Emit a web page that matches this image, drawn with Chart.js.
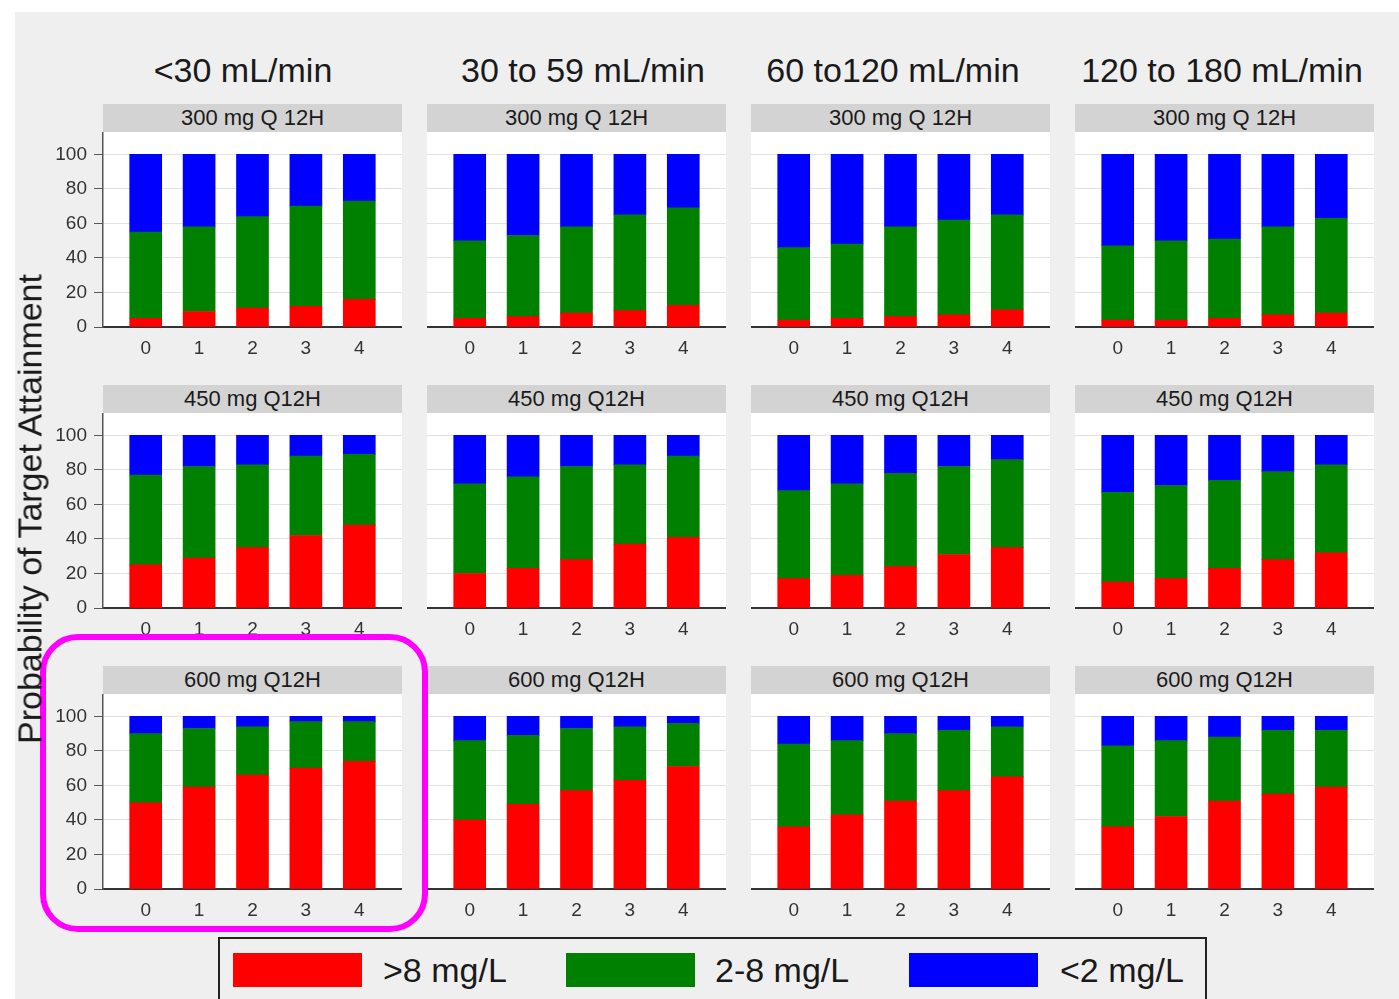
<!DOCTYPE html>
<html>
<head>
<meta charset="utf-8">
<script src="https://cdn.jsdelivr.net/npm/chart.js@4.4.1/dist/chart.umd.min.js"></script>
<style>
  body { margin: 0; width: 1399px; height: 999px; overflow: hidden; position: relative; background: #fff;
         font-family: "Liberation Sans", Arial, sans-serif; color: #1a1a1a; }
  #page { position: absolute; left: 15px; top: 12px; right: 0; bottom: 0; background: #efefef; }
  .colhead { position: absolute; width: 340px; margin-left: -170px; text-align: center; font-size: 34px; line-height: 40px; top: 50px; }
  .strip { position: absolute; height: 28px; background: #d3d3d3; font-size: 22px; line-height: 28px; text-align: center; }
  canvas { position: absolute; }
  #ytitle { position: absolute; left: 30px; top: 509px; font-size: 34px; white-space: nowrap;
            transform: translate(-50%, -50%) rotate(-90deg); }
  #highlight { position: absolute; left: 40px; top: 634px; width: 388px; height: 298px; box-sizing: border-box;
               border: 6px solid #ff00ff; border-radius: 38px; }
  #legend { position: absolute; left: 218px; top: 937px; width: 989px; height: 90px; box-sizing: border-box;
            border: 2px solid #222; background: #efefef; }
  .swatch { position: absolute; top: 953px; width: 129px; height: 34px; }
  .legtext { position: absolute; top: 950px; font-size: 34px; line-height: 40px; }
</style>
</head>
<body>
<div id="page"></div>
<div id="panels"></div>
<div id="highlight"></div>
<div id="ytitle">Probability of Target Attainment</div>
<div id="legend"></div>
<div id="legenditems"></div>
<script>
const categories = [0, 1, 2, 3, 4];
const clearance = ['<30 mL/min', '30 to 59 mL/min', '60 to120 mL/min', '120 to 180 mL/min'];
const regimens = ['300 mg Q 12H', '450 mg Q12H', '600 mg Q12H'];
const seriesNames = ['>8 mg/L', '2-8 mg/L', '<2 mg/L'];
const seriesColors = ['#ff0000', '#008000', '#0000ff'];
const yTicks = [0, 20, 40, 60, 80, 100];

// one row per clearance group, values in %
const above8_300 = [[5, 9, 11, 12, 16], [5, 6, 8, 9.5, 12.5], [4, 5, 6, 7, 10], [4, 4, 5, 7, 8]];
const mid_300 = [[50, 49, 53, 58, 57], [45, 47, 50, 55.5, 56.5], [42, 43, 52, 55, 55], [43, 46, 46, 51, 55]];
const below2_300 = [[45, 42, 36, 30, 27], [50, 47, 42, 35, 31], [54, 52, 42, 38, 35], [53, 50, 49, 42, 37]];

const above8_450 = [[25, 29, 35, 42, 48], [20, 23, 28, 37, 41], [17, 19, 24, 31, 35], [15, 17, 23, 28, 32]];
const mid_450 = [[52, 53, 48, 46, 41], [52, 53, 54, 46, 47], [51, 53, 54, 51, 51], [52, 54, 51, 51, 51]];
const below2_450 = [[23, 18, 17, 12, 11], [28, 24, 18, 17, 12], [32, 28, 22, 18, 14], [33, 29, 26, 21, 17]];

const above8_600 = [[50, 59, 66, 70, 74], [40, 49, 57, 63, 71], [36, 43, 51, 57, 65], [36, 42, 51, 55, 59]];
const mid_600 = [[40, 34, 28, 27, 23], [46, 40, 36, 31, 25], [48, 43, 39, 35, 29], [47, 44, 37, 37, 33]];
const below2_600 = [[10, 7, 6, 3, 3], [14, 11, 7, 6, 4], [16, 14, 10, 8, 6], [17, 14, 12, 8, 8]];

const bands = [
    [above8_300, mid_300, below2_300],
    [above8_450, mid_450, below2_450],
    [above8_600, mid_600, below2_600],
];

const colLeft = [103, 427, 751, 1075];
const headCenter = [243, 583, 893, 1222];
const rowTop = [104, 385, 666];
const plotW = 299, plotH = 195, yAxisW = 60, xAxisH = 40;

// white plot background
const plotBg = {
    id: 'plotBg',
    beforeDraw(chart) {
        const a = chart.chartArea;
        chart.ctx.save();
        chart.ctx.fillStyle = '#ffffff';
        chart.ctx.fillRect(a.left, a.top, a.right - a.left, a.bottom - a.top);
        chart.ctx.restore();
    },
};

const panels = document.getElementById('panels');

clearance.forEach((name, c) => {
    const h = document.createElement('div');
    h.className = 'colhead';
    h.style.left = headCenter[c] + 'px';
    h.textContent = name;
    panels.appendChild(h);
});

regimens.forEach((reg, r) => {
    clearance.forEach((_, c) => {
        const strip = document.createElement('div');
        strip.className = 'strip';
        strip.style.left = colLeft[c] + 'px';
        strip.style.top = rowTop[r] + 'px';
        strip.style.width = plotW + 'px';
        strip.textContent = reg;
        panels.appendChild(strip);

        const first = c === 0;
        const leftW = first ? yAxisW : 0;
        const canvas = document.createElement('canvas');
        canvas.width = plotW + leftW;
        canvas.height = plotH + xAxisH;
        canvas.style.left = (colLeft[c] - leftW) + 'px';
        canvas.style.top = (rowTop[r] + 28) + 'px';
        panels.appendChild(canvas);

        const datasets = seriesNames.map((s, k) => ({
            label: s,
            data: categories.map((x, i) => ({ x, y: bands[r][k][c][i] })),
            backgroundColor: seriesColors[k],
            barThickness: 32,
            borderWidth: 0,
        }));

        new Chart(canvas, {
            type: 'bar',
            data: { datasets },
            plugins: [plotBg],
            options: {
                responsive: false,
                animation: false,
                layout: { padding: 0 },
                plugins: { legend: { display: false }, tooltip: { enabled: false } },
                scales: {
                    x: {
                        type: 'linear', stacked: true, min: -0.8, max: 4.8,
                        offset: false, bounds: 'data',
                        grid: { display: false, drawTicks: false, offset: false },
                        border: { display: true, color: '#333', width: 2 },
                        ticks: { font: { size: 19, family: 'Liberation Sans' }, color: '#333', padding: 10 },
                        afterBuildTicks: s => { s.ticks = categories.map(v => ({ value: v })); },
                        afterFit: s => { s.height = xAxisH; s.paddingLeft = 0; s.paddingRight = 0; },
                    },
                    y: {
                        stacked: true, min: 0, max: 113,
                        grid: { color: '#e3e3e3', lineWidth: 1, drawTicks: first, tickLength: 9, tickColor: '#555' },
                        border: { display: first, color: '#555', width: 1.5 },
                        ticks: { display: first, font: { size: 19, family: 'Liberation Sans' }, color: '#333', padding: 7 },
                        afterBuildTicks: s => { s.ticks = yTicks.map(v => ({ value: v })); },
                        afterFit: s => { s.width = leftW; s.paddingTop = 0; s.paddingBottom = 0; },
                    },
                },
            },
        });
    });
});

// legend
const legendPos = [{ sw: 233, tx: 383 }, { sw: 566, tx: 715 }, { sw: 909, tx: 1060 }];
const legendItems = document.getElementById('legenditems');
seriesNames.forEach((s, k) => {
    const sw = document.createElement('div');
    sw.className = 'swatch';
    sw.style.left = legendPos[k].sw + 'px';
    sw.style.background = seriesColors[k];
    legendItems.appendChild(sw);
    const t = document.createElement('div');
    t.className = 'legtext';
    t.style.left = legendPos[k].tx + 'px';
    t.textContent = s;
    legendItems.appendChild(t);
});
</script>
</body>
</html>
